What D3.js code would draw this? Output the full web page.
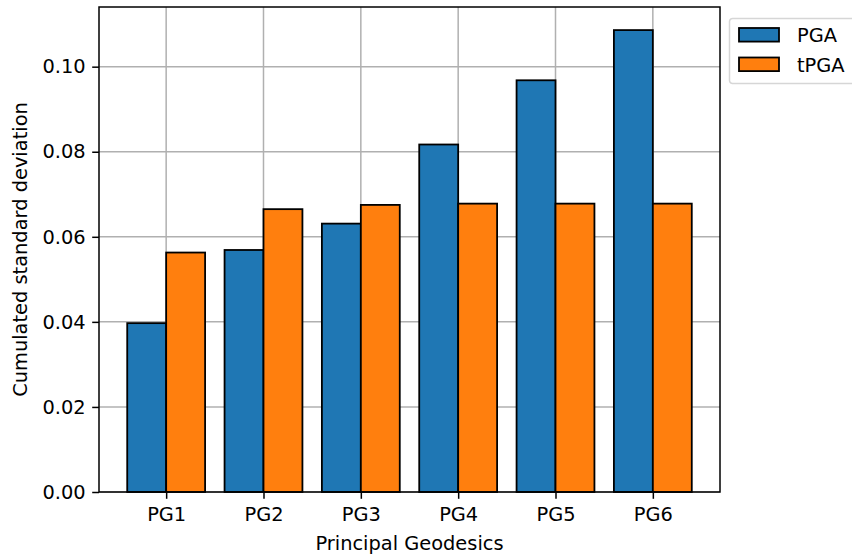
<!DOCTYPE html>
<html>
<head>
<meta charset="utf-8">
<script src="https://cdn.jsdelivr.net/npm/d3@7"></script>
<style>
  html, body { margin: 0; padding: 0; background: #fff; }
  svg { display: block; font-family: "DejaVu Sans", sans-serif; }
</style>
</head>
<body>
<svg id="chart" width="852" height="558"></svg>
<script>
// Cumulated standard deviation per principal geodesic
const categories = ["PG1", "PG2", "PG3", "PG4", "PG5", "PG6"];
const seriesNames = ["PGA", "tPGA"];
const pgaValues = [0.0397, 0.0569, 0.0631, 0.0817, 0.0968, 0.1086];
const tpgaValues = [0.0563, 0.0665, 0.0675, 0.0678, 0.0678, 0.0678];
const yTicks = [0.00, 0.02, 0.04, 0.06, 0.08, 0.10];
const colors = ["#1f77b4", "#ff7f0e"];

const series = [pgaValues, tpgaValues];
const fontSize = 19.4;

const svg = d3.select("#chart");
const plotLeft = 99, plotRight = 720, plotTop = 7, plotBottom = 492;

// Bars span [i-0.4, i+0.4]; 5% padding on each side of the data extent
const barW = 0.4;
const span = categories.length - 1 + 2 * barW;
const x = d3.scaleLinear()
  .domain([-barW - 0.05 * span, categories.length - 1 + barW + 0.05 * span])
  .range([plotLeft, plotRight]);
const yMax = d3.max(series.flat()) * 1.05;
const y = d3.scaleLinear().domain([0, yMax]).range([plotBottom, plotTop]);

// Grid
const grid = svg.append("g");
grid.selectAll("line.gy").data(yTicks).join("line")
  .attr("x1", plotLeft).attr("x2", plotRight)
  .attr("y1", d => y(d)).attr("y2", d => y(d))
  .attr("stroke", "#b0b0b0").attr("stroke-width", 1.5);
grid.selectAll("line.gx").data(categories).join("line")
  .attr("x1", (d, i) => x(i)).attr("x2", (d, i) => x(i))
  .attr("y1", plotTop).attr("y2", plotBottom)
  .attr("stroke", "#b0b0b0").attr("stroke-width", 1.5);

// Bars
series.forEach((vals, s) => {
  svg.append("g").selectAll("rect").data(vals).join("rect")
    .attr("x", (d, i) => x(i - barW + s * barW))
    .attr("width", (d, i) => x(i + s * barW) - x(i - barW + s * barW))
    .attr("y", d => y(d))
    .attr("height", d => y(0) - y(d))
    .attr("fill", colors[s])
    .attr("stroke", "#000").attr("stroke-width", 1.8);
});

// Axes
const yAxis = d3.axisLeft(y).tickValues(yTicks).tickFormat(d3.format(".2f")).tickSize(6.8).tickPadding(6.5);
const gy = svg.append("g").attr("transform", `translate(${plotLeft},0)`).call(yAxis);
const xAxis = d3.axisBottom(x).tickValues(d3.range(categories.length)).tickFormat(i => categories[i]).tickSize(6.8).tickPadding(8.5);
const gx = svg.append("g").attr("transform", `translate(0,${plotBottom})`).call(xAxis);
[gx, gy].forEach(g => {
  g.select(".domain").remove();
  g.selectAll(".tick line").attr("stroke", "#000").attr("stroke-width", 1.5);
  g.selectAll("text").attr("font-size", fontSize).attr("fill", "#000").attr("font-family", "DejaVu Sans");
});

// Frame
svg.append("rect").attr("x", plotLeft).attr("y", plotTop)
  .attr("width", plotRight - plotLeft).attr("height", plotBottom - plotTop)
  .attr("fill", "none").attr("stroke", "#000").attr("stroke-width", 1.5);

// Axis labels
svg.append("text").attr("x", (plotLeft + plotRight) / 2).attr("y", 550)
  .attr("text-anchor", "middle").attr("font-size", fontSize).text("Principal Geodesics");
svg.append("text").attr("transform", `translate(27,${(plotTop + plotBottom) / 2}) rotate(-90)`)
  .attr("text-anchor", "middle").attr("font-size", fontSize).text("Cumulated standard deviation");

// Legend
const lg = svg.append("g").attr("transform", "translate(729,18)");
lg.append("rect").attr("x", 0.5).attr("y", 0.5).attr("width", 140).attr("height", 65)
  .attr("rx", 3).attr("fill", "#fff").attr("stroke", "#d6d6d6").attr("stroke-width", 1.5);
seriesNames.forEach((n, i) => {
  lg.append("rect").attr("x", 10).attr("y", 10 + i * 29.5).attr("width", 40).attr("height", 13.6)
    .attr("fill", colors[i]).attr("stroke", "#000").attr("stroke-width", 1.8);
  lg.append("text").attr("x", 68).attr("y", 23.5 + i * 30).attr("font-size", fontSize).text(n);
});
</script>
</body>
</html>
